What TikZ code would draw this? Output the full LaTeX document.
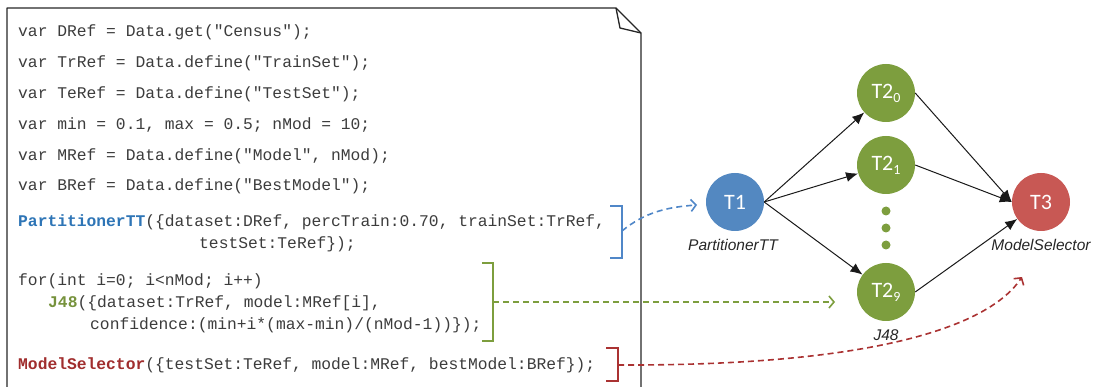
\documentclass[tikz,border=0pt]{standalone}
\usepackage{fontspec}
\setmonofont{Liberation Mono}
\newfontfamily\nodefont{Carlito}
\newfontfamily\labfont{Liberation Sans}
\usetikzlibrary{arrows.meta}
\definecolor{codegray}{RGB}{60,60,60}
\definecolor{tblue}{RGB}{83,136,193}
\definecolor{tgreen}{RGB}{125,158,62}
\definecolor{tred}{RGB}{200,88,84}
\definecolor{kblue}{RGB}{46,117,182}
\definecolor{kgreen}{RGB}{118,146,60}
\definecolor{kred}{RGB}{160,45,45}
\definecolor{bblue}{RGB}{80,135,200}
\definecolor{bgreen}{RGB}{125,158,62}
\definecolor{bred}{RGB}{170,50,50}
\newcommand{\tsub}[1]{\raisebox{-4pt}{\fontsize{14}{16}\selectfont #1}}
\tikzset{
  code/.style={anchor=base west, inner sep=0pt, text=codegray, font=\ttfamily\fontsize{16.3}{18}\selectfont},
  task/.style={circle, minimum size=58pt, inner sep=0pt, text=white, font=\nodefont\fontsize{22}{24}\selectfont},
  lab/.style={inner sep=0pt, font=\labfont\itshape\fontsize{15.5}{18}\selectfont, text=black!85},
  flow/.style={draw=black!90, line width=1pt, -{Latex[length=12pt,width=10pt]}},
  link/.style={line width=1.6pt, dash pattern=on 6pt off 4pt, -{Straight Barb[length=5pt,width=12pt]}},
  brk/.style={line width=1.6pt},
  dotn/.style={circle, fill=tgreen, minimum size=9pt, inner sep=0pt}
}
\begin{document}
\begin{tikzpicture}[x=1pt,y=-1pt]
\useasboundingbox (0,0) rectangle (1098,387);
% document frame
\draw[line width=1.3pt, color=black!85, line join=round] (641,387) -- (641,33) -- (616,8) -- (7,8) -- (7,387);
\draw[line width=1.3pt, color=black!85, line join=round] (616,8) -- (620,28) -- (641,33);
% code
\node[code] (l1) at (18,37) {var DRef = Data.get("Census");};
\node[code] (l2) at (18,68) {var TrRef = Data.define("TrainSet");};
\node[code] (l3) at (18,99) {var TeRef = Data.define("TestSet");};
\node[code] (l4) at (18,130) {var min = 0.1, max = 0.5; nMod = 10;};
\node[code] (l5) at (18,161) {var MRef = Data.define("Model", nMod);};
\node[code] (l6) at (18,191) {var BRef = Data.define("BestModel");};
\node[code] (p1) at (18,227) {{\color{kblue}\bfseries PartitionerTT}(\{dataset:DRef, percTrain:0.70, trainSet:TrRef,};
\node[code] (p2) at (199,249) {testSet:TeRef\});};
\node[code] (f1) at (18,286) {for(int i=0; i<nMod; i++)};
\node[code] (f2) at (48,308) {{\color{kgreen}\bfseries J48}(\{dataset:TrRef, model:MRef[i],};
\node[code] (f3) at (90,330) {confidence:(min+i*(max-min)/(nMod-1))\});};
\node[code] (m1) at (18,370) {{\color{kred}\bfseries ModelSelector}(\{testSet:TeRef, model:MRef, bestModel:BRef\});};
% brackets
\draw[brk, bblue] (610,206) -- (622,206) -- (622,258) -- (610,258);
\draw[brk, bgreen] (482,263) -- (493,263) -- (493,341) -- (482,341);
\draw[brk, bred] (606,348) -- (618,348) -- (618,381) -- (606,381);
\coordinate (bb) at (622,231);
\coordinate (bg) at (493,302);
\coordinate (br) at (618,365);
% task nodes
\node[task, fill=tblue] (t1) at (735,202) {T1};
\node[task, fill=tgreen] (t20) at (886,93) {T2\tsub{0}};
\node[task, fill=tgreen] (t21) at (886,165) {T2\tsub{1}};
\node[task, fill=tgreen] (t29) at (886,292) {T2\tsub{9}};
\node[task, fill=tred] (t3) at (1041,202) {T3};
\node[dotn] (d1) at (886,211) {};
\node[dotn] (d2) at (886,228) {};
\node[dotn] (d3) at (886,245) {};
\node[lab] (lt1) at (733,245) {PartitionerTT};
\node[lab] (lt2) at (886,335) {J48};
\node[lab] (lt3) at (1041,245) {ModelSelector};
\coordinate (t3in) at (1022,277);
% flow arrows
\draw[flow] (t1.east) -- (t20);
\draw[flow] (t1.east) -- (t21);
\draw[flow] (t1.east) -- (t29);
\draw[flow] (t20.east) -- (t3.west);
\draw[flow] (t21.east) -- (t3.west);
\draw[flow] (t29.east) -- (t3);
% links
\draw[link, bblue] (bb) .. controls (645,212) and (668,207) .. (697,205);
\draw[link, bgreen] (bg) -- (835,302);
\draw[link, bred] (br) .. controls (880,366) and (990,325) .. (t3in);
\end{tikzpicture}
\end{document}
